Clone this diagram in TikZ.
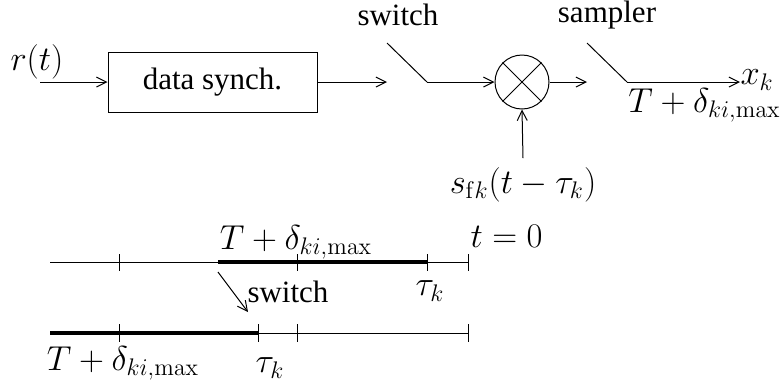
\documentclass[tikz,border=0pt]{standalone}
\usepackage[no-math]{fontspec}
\setmainfont{Liberation Serif}
\usetikzlibrary{arrows.meta}
\begin{document}
\begin{tikzpicture}[x=0.5pt,y=-0.5pt, line width=0.5pt,
  >={Straight Barb[length=5pt,width=5pt]},
  every node/.style={font=\fontsize{15.5}{18}\selectfont, inner sep=0pt},
  mathlab/.style={font=\fontsize{17}{20}\selectfont},
  thickseg/.style={line width=2pt},
  tick/.style={line width=0.5pt}]
\useasboundingbox (0,0) rectangle (783,388);
% top row
\node[mathlab] (rt) at (37,62) {$r(t)$};
\coordinate (in) at (40,82);
\node[draw, minimum width=104.5pt, minimum height=30pt] (sync) at (212.5,82) {data synch.};
\coordinate (swin) at (387,82);
\coordinate (swtop) at (387,43);
\coordinate (swpivot) at (427,82);
\node (swlab) at (398,15) {switch};
\node[draw, circle, minimum size=27pt] (mult) at (522,82) {};
\coordinate (smin) at (587,82);
\coordinate (smtop) at (587,43);
\coordinate (smpivot) at (627,82);
\node (smlab) at (607,15) {sampler};
\node[mathlab, anchor=west] (xk) at (740,80) {$x_k$};
\coordinate (xkin) at (740,82);
\node[mathlab, anchor=east] (Tlab) at (781,105) {$T+\delta_{ki,\max}$};
\node[mathlab] (sfk) at (523,185) {$s_{\mathrm{f}k}(t-\tau_k)$};
\coordinate (sfktop) at (523,158);
\draw[->] (in) -- (sync.west);
\draw[->] (sync.east) -- (swin);
\draw (swtop) -- (swpivot);
\draw[->] (swpivot) -- (mult.west);
\draw (mult.north west) -- (mult.south east);
\draw (mult.north east) -- (mult.south west);
\draw[->] (mult.east) -- (smin);
\draw (smtop) -- (smpivot);
\draw[->] (smpivot) -- (xkin);
\draw[->] (sfktop) -- (mult.south);
% timeline 1
\coordinate (a0) at (50,262);
\coordinate (a1) at (119,262);
\coordinate (a2) at (218,262);
\coordinate (a3) at (297,262);
\coordinate (a4) at (427,262);
\coordinate (a5) at (468,262);
\draw (a0) -- (a5);
\draw[thickseg] (a2) -- (a4);
\foreach \p in {a1,a3,a4,a5} \draw[tick] ([yshift=4pt]\p) -- ([yshift=-4.5pt]\p);
\node[mathlab] (Ta) at (296,242) {$T+\delta_{ki,\max}$};
\node[mathlab, anchor=west] (t0) at (470,236) {$t=0$};
\node[mathlab] (taua) at (430,291) {$\tau_k$};
% timeline 2
\coordinate (b0) at (50,333);
\coordinate (b1) at (119,333);
\coordinate (b2) at (258,333);
\coordinate (b3) at (297,333);
\coordinate (b5) at (468,333);
\draw (b0) -- (b5);
\draw[thickseg] (b0) -- (b2);
\foreach \p in {b1,b2,b3,b5} \draw[tick] ([yshift=4.5pt]\p) -- ([yshift=-4.5pt]\p);
\node[mathlab] (Tb) at (123,363) {$T+\delta_{ki,\max}$};
\node[mathlab] (taub) at (270,368) {$\tau_k$};
% switch arrow
\coordinate (sa) at (218,272);
\coordinate (sb) at (248,312);
\draw[->] (sa) -- (sb);
\node[anchor=west] (swlab2) at (247,292) {switch};
\end{tikzpicture}
\end{document}
